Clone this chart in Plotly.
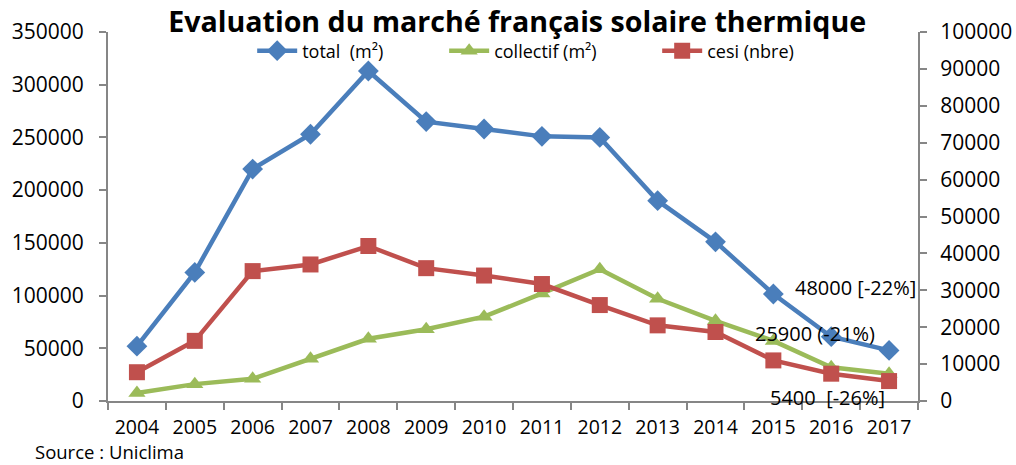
import plotly.graph_objects as go

years = ["2004", "2005", "2006", "2007", "2008", "2009", "2010",
         "2011", "2012", "2013", "2014", "2015", "2016", "2017"]
total_m2 = [52000, 122000, 220000, 253000, 313000, 265000, 258000,
            251000, 250000, 190000, 151000, 101500, 61000, 48000]
collectif_m2 = [7600, 16000, 21000, 40000, 59000, 68000, 80000,
                102000, 125000, 97000, 76000, 57000, 32000, 25900]
cesi_nbre = [7800, 16300, 35200, 37000, 42000, 36000, 34000,
             31700, 26000, 20500, 18700, 11000, 7400, 5400]

left_ticks = [0, 50000, 100000, 150000, 200000, 250000, 300000, 350000]
right_ticks = [0, 10000, 20000, 30000, 40000, 50000, 60000, 70000, 80000, 90000, 100000]

FONT = "'Open Sans', Lato, sans-serif"
BLUE = "#4A7EBB"
GREEN = "#9BBB59"
RED = "#C0504D"
AXIS = "#868686"

fig = go.Figure()
fig.add_trace(go.Scatter(x=years, y=total_m2, name="total  (m²)", mode="lines+markers",
                         legend="legend",
                         line=dict(color=BLUE, width=4.5),
                         marker=dict(symbol="diamond", size=16, color=BLUE)))
fig.add_trace(go.Scatter(x=years, y=collectif_m2, name="collectif (m²)", mode="lines+markers",
                         legend="legend2",
                         line=dict(color=GREEN, width=4.5),
                         marker=dict(symbol="triangle-up", size=15, color=GREEN)))
fig.add_trace(go.Scatter(x=years, y=cesi_nbre, name="cesi (nbre)", mode="lines+markers",
                         yaxis="y2", legend="legend3",
                         line=dict(color=RED, width=4.5),
                         marker=dict(symbol="square", size=16, color=RED)))

def leg(x):
    return dict(orientation="h", x=x, xanchor="left", y=0.9485, yanchor="middle",
                font=dict(size=18, family=FONT, color="#000"), bgcolor="rgba(0,0,0,0)",
                itemwidth=40)

fig.update_layout(
    width=1016, height=465,
    margin=dict(l=108, r=98, t=32, b=64),
    paper_bgcolor="white", plot_bgcolor="white",
    font=dict(family=FONT, color="#000000", size=21),
    title=dict(text="<b>Evaluation du marché français solaire thermique</b>",
               x=0.509, xanchor="center", y=0.953, yanchor="middle",
               font=dict(size=28.6, family=FONT, color="#000000")),
    showlegend=True,
    legend=leg(0.178),
    legend2=leg(0.415),
    legend3=leg(0.678),
    xaxis=dict(type="category", range=[-0.5, 13.5], showgrid=False, showline=True,
               linecolor=AXIS, linewidth=2, ticks="outside", ticklen=7, tickcolor=AXIS,
               tickwidth=2, tickson="boundaries", ticklabelstandoff=8, tickangle=0,
               automargin=False, tickfont=dict(size=19.5, family=FONT)),
    yaxis=dict(range=[0, 350000], tickvals=left_ticks, ticktext=[str(v) for v in left_ticks],
               showgrid=False, showline=True, linecolor=AXIS, linewidth=2, zeroline=False,
               ticks="outside", ticklen=7, tickcolor=AXIS, tickwidth=2, ticklabelstandoff=11,
               automargin=False, tickfont=dict(size=21, family=FONT)),
    yaxis2=dict(range=[0, 100000], tickvals=right_ticks, ticktext=[str(v) for v in right_ticks],
                overlaying="y", side="right", showgrid=False, showline=True,
                linecolor=AXIS, linewidth=2, zeroline=False,
                ticks="outside", ticklen=7, tickcolor=AXIS, tickwidth=2, ticklabelstandoff=9,
                automargin=False, tickfont=dict(size=21, family=FONT)),
)

fig.add_annotation(text="48000 [-22%]", x=12.42, y=108000, xref="x", yref="y",
                   showarrow=False, font=dict(size=20, family=FONT, color="#000"))
fig.add_annotation(text="25900 (-21%)", x=11.72, y=64500, xref="x", yref="y",
                   showarrow=False, font=dict(size=20, family=FONT, color="#000"))
fig.add_annotation(text="5400  [-26%]", x=11.94, y=3000, xref="x", yref="y",
                   showarrow=False, font=dict(size=20, family=FONT, color="#000"))
fig.add_annotation(text="Source : Uniclima", xref="paper", yref="paper",
                   x=(33 - 108) / 810, y=(401 - 466) / 369, xanchor="left", yanchor="bottom",
                   showarrow=False, font=dict(size=18.5, family=FONT, color="#000"))

fig.write_html("out.html", config={"displayModeBar": False},
               post_script="document.body.style.margin='0';document.body.style.padding='0';"
                           "document.body.style.overflow='hidden';")
